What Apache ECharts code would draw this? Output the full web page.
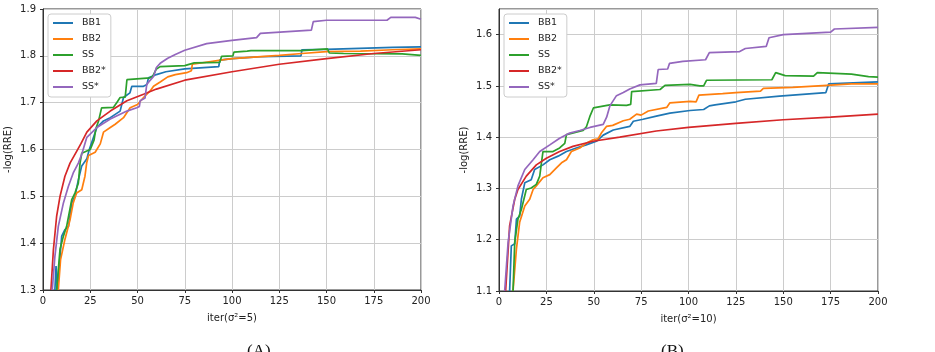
<!DOCTYPE html>
<html>
<head>
<meta charset="utf-8">
<script src="https://cdn.jsdelivr.net/npm/echarts@6/dist/echarts.min.js"></script>
<style>
  html, body { margin: 0; padding: 0; background: #fff; }
  #chart { width: 935px; height: 352px; }
</style>
</head>
<body>
<div id="chart"></div>
<script>
// series names, shared by both panels
const names = ["BB1", "BB2", "SS", "BB2*", "SS*"];
const colors = ["#1f77b4", "#ff7f0e", "#2ca02c", "#d62728", "#9467bd"];

// panel A: iter(sigma^2=5), [iter, -log(RRE)]
const bb1A = [[6.3,1.30],[6.9,1.351],[7.6,1.30],[9,1.372],[9.9,1.415],[11.6,1.429],[13.5,1.436],[15.2,1.486],[16.9,1.50],[18.7,1.535],[20.5,1.565],[23.2,1.58],[24.5,1.60],[28.5,1.647],[32,1.661],[35.6,1.668],[40.8,1.682],[42.6,1.711],[46,1.721],[47,1.735],[53.2,1.735],[55,1.739],[55.8,1.753],[60,1.76],[65,1.766],[75,1.772],[85,1.775],[93,1.777],[93.5,1.791],[100,1.794],[115,1.798],[136.5,1.80],[137,1.813],[150,1.814],[185,1.818],[200,1.819]];
const bb2A = [[8.1,1.30],[9.3,1.365],[11.6,1.408],[14.3,1.45],[16,1.486],[17.8,1.507],[20.5,1.514],[22.2,1.543],[23.1,1.571],[24.1,1.587],[27.6,1.594],[30.3,1.612],[32,1.637],[35.6,1.647],[38.2,1.654],[42.6,1.668],[46.1,1.689],[50,1.696],[53.2,1.711],[56.7,1.725],[58.5,1.735],[62,1.744],[66,1.755],[70,1.76],[76,1.764],[78.5,1.768],[79,1.782],[94,1.791],[100,1.794],[125,1.801],[137,1.805],[150,1.809],[168,1.81],[185,1.813],[200,1.815]];
const ssA = [[7.2,1.30],[9,1.387],[10.8,1.415],[12.5,1.436],[15.2,1.493],[16.9,1.507],[18.7,1.528],[19.6,1.571],[20.5,1.592],[25,1.60],[27,1.62],[28,1.645],[29.4,1.661],[31,1.689],[37.3,1.69],[39,1.70],[40.8,1.711],[43.5,1.712],[44.4,1.749],[56.7,1.753],[58,1.756],[60,1.772],[62,1.777],[75,1.779],[80,1.785],[93.5,1.786],[94.5,1.799],[100.5,1.80],[101,1.808],[108,1.81],[109,1.806],[110,1.811],[137,1.811],[137.5,1.814],[150.5,1.815],[151.5,1.806],[159,1.805],[190,1.804],[200,1.801]];
const bb2sA = [[4.2,1.30],[5.5,1.386],[7.2,1.457],[9,1.50],[11.6,1.543],[14.3,1.571],[17.8,1.596],[20,1.612],[23.2,1.637],[28.5,1.661],[35.6,1.682],[44.4,1.704],[53.2,1.718],[60,1.729],[75,1.748],[100,1.766],[125,1.782],[150,1.794],[175,1.805],[200,1.813]];
const sssA = [[4.9,1.30],[6.3,1.372],[8.1,1.436],[10.8,1.486],[13.4,1.521],[16,1.55],[18.7,1.571],[20.5,1.59],[23.2,1.626],[28.5,1.647],[35.6,1.665],[44.4,1.682],[49.6,1.689],[51,1.692],[51.4,1.704],[54,1.71],[54.9,1.739],[56.3,1.746],[58.5,1.756],[59.5,1.757],[60,1.775],[62,1.784],[66,1.795],[70,1.803],[75,1.812],[86.6,1.826],[100,1.833],[113,1.839],[115,1.848],[142,1.855],[143,1.873],[150,1.876],[182,1.876],[184,1.882],[197,1.882],[200,1.878]];

// panel B: iter(sigma^2=10)
const bb1B = [[5.6,1.10],[6.5,1.188],[8.3,1.192],[9.2,1.24],[10.9,1.246],[11.8,1.279],[13.6,1.311],[17,1.317],[18.8,1.337],[23.2,1.346],[26.8,1.356],[31.2,1.363],[35.6,1.372],[40.8,1.379],[46,1.385],[51.4,1.392],[55,1.404],[60.3,1.414],[69,1.421],[70.9,1.431],[76,1.435],[83,1.441],[90.2,1.447],[100.8,1.452],[108,1.454],[111,1.461],[114,1.463],[125,1.469],[130,1.474],[148,1.48],[172.5,1.487],[174,1.504],[200,1.508]];
const bb2B = [[7.4,1.10],[9.2,1.182],[10.9,1.234],[13.6,1.266],[16.2,1.279],[18,1.298],[19.7,1.305],[23.2,1.321],[26.8,1.327],[30.3,1.34],[33,1.35],[35.6,1.356],[38.2,1.372],[42.6,1.379],[46,1.388],[49.6,1.395],[52.3,1.397],[54,1.408],[56.7,1.421],[60,1.423],[65.6,1.432],[69,1.435],[72.6,1.445],[75,1.443],[78.8,1.451],[88.5,1.458],[90.2,1.467],[100.8,1.47],[104,1.469],[105.5,1.482],[118,1.485],[125,1.487],[138,1.49],[139.5,1.495],[155,1.497],[156,1.50],[173,1.501],[186,1.504],[200,1.504]];
const ssB = [[7.4,1.10],[8.3,1.195],[10,1.24],[11.8,1.259],[14.4,1.298],[17,1.301],[19.7,1.308],[21.5,1.324],[22.4,1.35],[23.2,1.372],[28.5,1.372],[32,1.379],[34.7,1.388],[35.6,1.405],[44.4,1.413],[46.1,1.42],[47.9,1.44],[49.8,1.457],[58.5,1.463],[67.3,1.462],[69.5,1.464],[70,1.489],[85,1.493],[87.6,1.501],[100.8,1.503],[106,1.50],[108,1.50],[109.5,1.511],[144,1.512],[146,1.526],[151,1.52],[166,1.519],[168,1.526],[186,1.523],[195,1.518],[200,1.517]];
const bb2sB = [[3.5,1.10],[5.6,1.227],[8.3,1.279],[10,1.298],[14.4,1.324],[19.7,1.346],[25,1.359],[32,1.372],[39,1.382],[49.6,1.392],[63.7,1.40],[83,1.412],[100,1.419],[125,1.427],[150,1.434],[175,1.439],[200,1.445]];
const sssB = [[3,1.10],[4.8,1.195],[7.4,1.266],[10,1.305],[13.6,1.337],[18,1.356],[21.5,1.372],[26.8,1.385],[32,1.398],[37.3,1.408],[42.6,1.413],[48,1.419],[55,1.425],[56.8,1.439],[58.5,1.461],[62,1.481],[65.6,1.487],[69,1.494],[74.4,1.502],[83,1.505],[84,1.532],[89,1.533],[90,1.544],[97,1.548],[109,1.551],[111,1.565],[127,1.567],[130,1.573],[141,1.577],[142.5,1.594],[150,1.60],[175,1.605],[177,1.611],[200,1.614]];

const xTicks = { min: 0, max: 200, interval: 25 };
const yRangeA = { min: 1.3, max: 1.9, interval: 0.1 };
const yRangeB = { min: 1.1, max: 1.65, interval: 0.1 };
const xNames = ["iter(\u03c3\u00b2=5)", "iter(\u03c3\u00b2=10)"];
const panelLabels = ["(A)", "(B)"];

const font = "DejaVu Sans";
const axisColor = "#333";

function xAxis(idx) {
  return {
    type: "value",
    gridIndex: idx,
    min: xTicks.min,
    max: xTicks.max,
    interval: xTicks.interval,
    name: xNames[idx],
    nameLocation: "middle",
    nameGap: 23,
    nameTextStyle: { fontFamily: font, fontSize: 10, color: "#222" },
    axisLine: { show: true, onZero: false, lineStyle: { color: axisColor, width: 1 } },
    axisTick: { show: true, length: 3, lineStyle: { color: axisColor } },
    axisLabel: { fontFamily: font, fontSize: 10, color: "#222", margin: 6 },
    splitLine: { show: true, lineStyle: { color: "#cccccc", width: 1 } }
  };
}

function yAxis(idx, range) {
  return {
    type: "value",
    gridIndex: idx,
    min: range.min,
    max: range.max,
    interval: range.interval,
    name: "-log(RRE)",
    nameLocation: "middle",
    nameGap: 30,
    nameTextStyle: { fontFamily: font, fontSize: 10, color: "#222" },
    axisLine: { show: true, onZero: false, lineStyle: { color: axisColor, width: 1 } },
    axisTick: { show: true, length: 3, lineStyle: { color: axisColor } },
    axisLabel: {
      fontFamily: font, fontSize: 10, color: "#222", margin: 7,
      showMaxLabel: range.max === 1.9,
      formatter: v => v.toFixed(1)
    },
    splitLine: { show: true, lineStyle: { color: "#cccccc", width: 1 } }
  };
}

function legend(left) {
  return {
    data: names,
    orient: "vertical",
    left: left,
    top: 14,
    icon: "rect",
    itemWidth: 20,
    itemHeight: 2,
    itemGap: 4,
    padding: [3, 5, 4, 5],
    borderColor: "#cccccc",
    borderWidth: 1,
    borderRadius: 3,
    backgroundColor: "#fff",
    textStyle: { fontFamily: font, fontSize: 9.5, color: "#222", lineHeight: 12, padding: [0, 0, 0, 4] }
  };
}

const seriesA = [bb1A, bb2A, ssA, bb2sA, sssA];
const seriesB = [bb1B, bb2B, ssB, bb2sB, sssB];

function lines(list, idx) {
  return list.map((data, i) => ({
    name: names[i],
    type: "line",
    xAxisIndex: idx,
    yAxisIndex: idx,
    data: data,
    symbol: "none",
    showSymbol: false,
    clip: true,
    lineStyle: { width: 1.7, color: colors[i] },
    itemStyle: { color: colors[i] }
  }));
}

const myChart = echarts.init(document.getElementById("chart"), null, { renderer: "canvas" });
myChart.setOption({
  animation: false,
  backgroundColor: "#fff",
  color: colors,
  title: [
    { text: panelLabels[0], left: 242, top: 338, textStyle: { fontFamily: "Liberation Serif", fontSize: 17, fontWeight: "normal", color: "#111" } },
    { text: panelLabels[1], left: 656, top: 338, textStyle: { fontFamily: "Liberation Serif", fontSize: 17, fontWeight: "normal", color: "#111" } }
  ],
  grid: [
    { left: 43, top: 9, width: 378, height: 281, show: true, borderColor: axisColor, borderWidth: 1, backgroundColor: "transparent" },
    { left: 499, top: 9, width: 379, height: 282, show: true, borderColor: axisColor, borderWidth: 1, backgroundColor: "transparent" }
  ],
  legend: [legend(48), legend(504)],
  xAxis: [xAxis(0), xAxis(1)],
  yAxis: [yAxis(0, yRangeA), yAxis(1, yRangeB)],
  series: lines(seriesA, 0).concat(lines(seriesB, 1))
});
</script>
</body>
</html>
